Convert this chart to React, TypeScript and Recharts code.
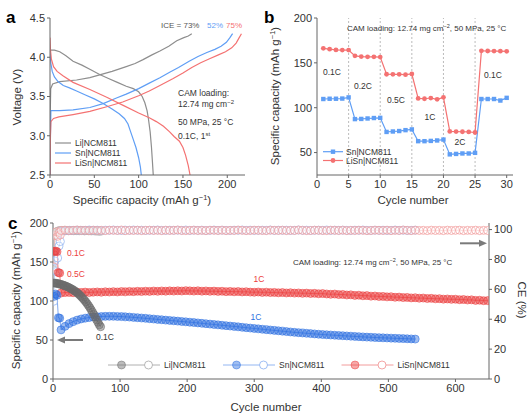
import React from "react";
import { ComposedChart, Line, XAxis, YAxis, ReferenceLine } from "recharts";

const FONT = "Arial, 'Liberation Sans', Helvetica, sans-serif";
const AX = "#666";
const TXT = "#333";

// panel a / b colours
const LI = "#8e8e8e";
const SN = "#5f9ef5";
const LISN = "#f47272";
// panel c colours
const C_LI = "#6a6a6a";
const C_SN = "#2c6fe0";
const C_LISN = "#ec3d3d";
const CE_LI = "#b0b0b0";
const CE_SN = "#93b6f2";
const CE_LISN = "#f29c9c";

// ---- panel a: first cycle voltage profiles [capacity, voltage]
const LI_CHG = [[0, 2.5], [0.3, 3.3], [0.8, 3.6], [3, 3.66], [11, 3.69], [30, 3.71], [45, 3.74], [54, 3.77], [70, 3.82], [86, 3.88], [96, 3.92], [105, 3.97], [115, 4.03], [124, 4.08], [134, 4.14], [143, 4.21], [151, 4.25], [156, 4.27], [160, 4.3]];
const LI_DIS = [[0, 4.09], [5, 4.09], [11, 4.07], [18, 4.02], [26, 3.95], [36, 3.9], [46, 3.84], [56, 3.78], [66, 3.73], [76, 3.68], [86, 3.63], [94, 3.6], [100, 3.56], [104, 3.5], [107, 3.42], [109.5, 3.32], [111, 3.22], [113, 3.05], [114.5, 2.85], [115.5, 2.68], [116.5, 2.5]];
const SN_CHG = [[0, 2.5], [0.5, 3.0], [1, 3.32], [5, 3.32], [11, 3.32], [26, 3.33], [45, 3.36], [60, 3.41], [75, 3.48], [86, 3.53], [100, 3.6], [112, 3.67], [124, 3.74], [135, 3.81], [145, 3.87], [157, 3.95], [167, 4.01], [177, 4.06], [186, 4.1], [193, 4.14], [199, 4.19], [203, 4.25], [206, 4.3]];
const SN_DIS = [[0, 4.05], [1, 3.92], [2.5, 3.82], [5, 3.75], [9, 3.69], [15, 3.64], [22, 3.61], [30, 3.57], [40, 3.52], [50, 3.47], [60, 3.41], [70, 3.34], [78, 3.28], [84, 3.22], [88, 3.15], [91, 3.05], [94, 2.95], [97, 2.85], [100, 2.72], [102, 2.6], [103, 2.5]];
const LISN_CHG = [[0, 2.5], [0.5, 3.0], [1, 3.18], [4, 3.22], [10, 3.24], [26, 3.27], [45, 3.31], [64, 3.37], [82, 3.43], [100, 3.51], [112, 3.57], [124, 3.64], [139, 3.73], [150, 3.8], [160, 3.87], [170, 3.93], [180, 3.98], [190, 4.03], [198, 4.07], [205, 4.12], [210, 4.18], [213, 4.24], [216, 4.3]];
const LISN_DIS = [[0, 4.25], [0.5, 4.1], [1.5, 3.98], [4, 3.88], [8, 3.82], [15, 3.76], [26, 3.68], [45, 3.59], [64, 3.49], [82, 3.39], [100, 3.29], [112, 3.23], [120, 3.18], [128, 3.12], [135, 3.05], [140, 2.99], [146, 2.93], [150, 2.85], [153, 2.75], [156, 2.62], [158, 2.5]];

// ---- panel b: rate capability
const B_CYCLES = [1, 2, 3, 4, 5, 6, 7, 8, 9, 10, 11, 12, 13, 14, 15, 16, 17, 18, 19, 20, 21, 22, 23, 24, 25, 26, 27, 28, 29, 30];
const B_SN = [109.7, 110, 110, 110.2, 111.5, 87.3, 87.5, 88, 88.5, 88.7, 73, 73.5, 74, 75, 75.8, 62.7, 62.7, 63, 63.5, 64.5, 48, 48.5, 49, 49, 49.7, 109.7, 109.7, 109.7, 108, 111];
const B_LISN = [166.2, 165.3, 164.4, 164.2, 164.3, 157.8, 157, 156.7, 156.7, 156.4, 137.3, 137.2, 137.2, 136.8, 137.6, 110.4, 110, 110.8, 109.4, 111.6, 73.6, 73.4, 73.2, 73, 72.4, 163.4, 163.2, 163.1, 163, 162.8];
const B_RATE_EDGES = [5, 10, 15, 20, 25];

// ---- panel c: long cycling
const LI_CYCLES = [1, 3, 5, 7, 9, 11, 13, 15, 17, 19, 21, 23, 25, 27, 29, 31, 33, 35, 37, 39, 41, 43, 45, 47, 49, 51, 53, 55, 57, 59, 61, 63, 65, 67, 69, 71];
const LI_CAP = [123.0, 123.0, 122.6, 122.3, 122.0, 121.5, 121.0, 120.4, 119.8, 119.1, 118.4, 117.6, 116.7, 115.8, 114.8, 113.7, 112.5, 111.2, 109.8, 108.3, 106.6, 104.9, 103.0, 101.0, 98.8, 96.5, 94.0, 91.4, 88.6, 85.7, 82.6, 79.3, 75.9, 72.6, 69.4, 67.0];
const LI_CE = [73, 96.5, 98.4, 99.0, 99.2, 99.3, 99.4, 99.2, 99.5, 99.3, 99.4, 99.2, 99.5, 99.3, 99.4, 99.2, 99.5, 99.3, 99.4, 99.2, 99.5, 99.3, 99.4, 99.1, 99.3, 99.4, 99.2, 99.3, 99.1, 99.3, 99.2, 99.0, 99.2, 98.9, 99.1, 98.8];

const FORM_CYCLES = [2, 4, 6, 8, 10];
const SN_FORM_CAP = [106, 109, 107.5, 78.5, 78];
const LISN_FORM_CAP = [163.5, 164, 163.2, 136.4, 135.8];
const FORM_CE_CYCLES = [1, 3, 5, 7, 9, 11];
const SN_FORM_CE = [52, 79, 72, 81, 89, 92];
const LISN_FORM_CE = [75, 96, 98.5, 95.5, 98, 96.5];

const C_CYCLES = [12, 18, 24, 30, 36, 42, 48, 54, 60, 66, 72, 78, 84, 90, 96, 102, 108, 114, 120, 126, 132, 138, 144, 150, 156, 162, 168, 174, 180, 186, 192, 198, 204, 210, 216, 222, 228, 234, 240, 246, 252, 258, 264, 270, 276, 282, 288, 294, 300, 306, 312, 318, 324, 330, 336, 342, 348, 354, 360, 366, 372, 378, 384, 390, 396, 402, 408, 414, 420, 426, 432, 438, 444, 450, 456, 462, 468, 474, 480, 486, 492, 498, 504, 510, 516, 522, 528, 534, 540, 546, 552, 558, 564, 570, 576, 582, 588, 594, 600, 606, 612, 618, 624, 630, 636, 642, 648];
const LISN_CAP = [
  110.2, 110.8, 111.0, 110.6, 111.2, 111.0, 111.4, 110.9, 111.3, 111.6,
  111.2, 111.8, 111.5, 112.0, 111.6, 112.1, 111.8, 112.3, 112.0, 112.4,
  112.1, 112.6, 112.3, 112.8, 112.4, 112.9, 112.6, 113.0, 112.7, 113.1,
  112.8, 113.3, 113.0, 112.7, 113.1, 112.6, 112.9, 112.4, 112.7, 112.3,
  112.5, 112.0, 112.3, 111.8, 112.1, 111.6, 111.9, 111.4, 111.2, 111.5,
  111.0, 111.3, 110.8, 111.0, 110.5, 110.8, 110.3, 110.6, 110.1, 110.3,
  109.8, 110.1, 109.6, 109.8, 109.3, 109.5, 109.0, 108.6, 108.9, 108.2,
  108.4, 107.7, 107.9, 107.2, 107.4, 106.7, 106.9, 106.2, 106.4, 105.8,
  105.9, 105.3, 105.5, 104.8, 105.0, 104.4, 104.6, 104.0, 104.2, 103.6,
  103.8, 103.2, 103.4, 102.8, 103.0, 102.4, 102.6, 102.1, 102.3, 101.7,
  101.9, 101.3, 101.5, 100.8, 101.0, 100.4, 100.5,
];
const SN_CAP = [
  63, 67.5, 71, 73.5, 75.5, 77, 78, 78.8, 79.4, 79.8,
  80.1, 80.3, 80.4, 80.4, 80.2, 80.0, 79.7, 79.4, 79.0, 78.6,
  78.2, 77.8, 77.3, 76.9, 76.4, 76.0, 75.5, 75.1, 74.6, 74.2,
  73.7, 73.3, 72.8, 72.4, 71.9, 71.4, 70.9, 70.4, 69.9, 69.4,
  68.9, 68.4, 67.9, 67.4, 66.9, 66.3, 65.8, 65.3, 64.8, 64.3,
  63.8, 63.3, 62.8, 62.3, 61.8, 61.3, 60.8, 60.3, 59.8, 59.4,
  59.0, 58.6, 58.2, 57.8, 57.4, 57.0, 56.7, 56.4, 56.1, 55.8,
  55.5, 55.2, 54.9, 54.6, 54.3, 54.0, 53.7, 53.5, 53.2, 53.0,
  52.8, 52.6, 52.4, 52.2, 52.0, 51.8, 51.6, 51.4, 51.2,
];
const LISN_CE = [
  99.4, 99.6, 99.3, 99.5, 99.7, 99.4, 99.5, 99.3, 99.6, 99.4,
  99.5, 99.3, 99.6, 99.5, 99.4, 99.7, 99.3, 99.5, 99.4, 99.6,
  99.3, 99.5, 99.6, 99.4, 99.5, 99.3, 99.6, 99.4, 99.5, 99.7,
  99.4, 99.3, 99.5, 99.6, 99.4, 99.5, 99.3, 99.6, 99.5, 99.4,
  99.6, 99.3, 99.5, 99.4, 99.7, 99.5, 99.3, 99.4, 99.6, 99.5,
  99.4, 99.3, 99.6, 99.5, 99.4, 99.6, 99.3, 99.5, 99.4, 99.7,
  99.5, 99.3, 99.4, 99.6, 99.5, 99.4, 99.3, 99.6, 99.5, 99.4,
  99.6, 99.3, 99.5, 99.4, 99.6, 99.5, 99.3, 99.4, 99.6, 99.5,
  99.4, 99.6, 99.3, 99.5, 99.4, 99.7, 99.5, 99.3, 99.6, 99.4,
  99.5, 99.3, 99.6, 99.4, 99.5, 99.3, 99.6, 99.4, 99.5, 99.6,
  99.3, 99.5, 99.4, 99.6, 99.3, 99.5, 99.4,
];
const SN_CE = [
  99.0, 99.2, 99.4, 99.5, 99.6, 99.4, 99.5, 99.7, 99.5, 99.6,
  99.4, 99.6, 99.5, 99.7, 99.5, 99.4, 99.6, 99.5, 99.7, 99.5,
  99.6, 99.4, 99.5, 99.6, 99.7, 99.5, 99.4, 99.6, 99.5, 99.6,
  99.5, 99.7, 99.4, 99.6, 99.5, 99.6, 99.4, 99.5, 99.7, 99.5,
  99.6, 99.5, 99.4, 99.6, 99.5, 99.7, 99.5, 99.6, 99.4, 99.5,
  99.6, 99.5, 99.7, 99.4, 99.6, 99.5, 99.6, 99.4, 99.5, 99.7,
  99.5, 99.6, 99.4, 99.5, 99.6, 99.5, 99.7, 99.4, 99.6, 99.5,
  99.6, 99.5, 99.4, 99.6, 99.5, 99.7, 99.5, 99.4, 99.6, 99.5,
  99.6, 99.4, 99.5, 99.7, 99.5, 99.6, 99.4, 99.5, 99.6,
];

const pts = (pairs: number[][]) => pairs.map(([x, y]) => ({ x, y }));
const zip = (xs: number[], ys: number[]) => ys.map((y, i) => ({ x: xs[i], y }));

const tickStyle = { fontSize: 11, fill: TXT, fontFamily: FONT };

function PanelA() {
  const curves = [
    { d: LI_CHG, c: LI }, { d: LI_DIS, c: LI },
    { d: SN_CHG, c: SN }, { d: SN_DIS, c: SN },
    { d: LISN_CHG, c: LISN }, { d: LISN_DIS, c: LISN },
  ];
  return (
    <ComposedChart width={262} height={205} margin={{ top: 18, right: 17, bottom: 0, left: 0 }}>
      <XAxis type="number" dataKey="x" domain={[0, 220]} ticks={[0, 50, 100, 150, 200]} height={30}
        tickSize={3} tickMargin={2} tick={tickStyle} stroke={AX} allowDataOverflow />
      <XAxis xAxisId="f" orientation="top" type="number" domain={[0, 220]} height={0} tick={false} stroke={AX} />
      <YAxis type="number" domain={[2.5, 4.5]} ticks={[2.5, 3, 3.5, 4, 4.5]} tickFormatter={(v) => v.toFixed(1)}
        width={50} tickSize={3} tickMargin={2} tick={tickStyle} stroke={AX} allowDataOverflow />
      <YAxis yAxisId="f" orientation="right" type="number" domain={[2.5, 4.5]} width={0} tick={false} stroke={AX} />
      {curves.map((cv, i) => (
        <Line key={i} data={pts(cv.d)} dataKey="y" type="linear" stroke={cv.c} strokeWidth={1.2}
          dot={false} activeDot={false} isAnimationActive={false} />
      ))}
    </ComposedChart>
  );
}

const squareDot = (color: string) => (p: any) => (
  <rect key={`s${p.index}`} x={p.cx - 2.2} y={p.cy - 2.2} width={4.4} height={4.4} fill={color} />
);

function PanelB() {
  return (
    <ComposedChart width={270} height={205} margin={{ top: 18, right: 19, bottom: 0, left: 0 }}>
      <XAxis type="number" dataKey="x" domain={[0, 31]} ticks={[0, 5, 10, 15, 20, 25, 30]} height={30}
        tickSize={3} tickMargin={2} tick={tickStyle} stroke={AX} allowDataOverflow />
      <XAxis xAxisId="f" orientation="top" type="number" domain={[0, 31]} height={0} tick={false} stroke={AX} />
      <YAxis type="number" domain={[25, 200]} ticks={[50, 100, 150, 200]} width={55}
        tickSize={3} tickMargin={2} tick={tickStyle} stroke={AX} allowDataOverflow />
      <YAxis yAxisId="f" orientation="right" type="number" domain={[25, 200]} width={0} tick={false} stroke={AX} />
      {B_RATE_EDGES.map((x) => (
        <ReferenceLine key={x} x={x} stroke="#aaa" strokeDasharray="2 2" strokeWidth={0.8} />
      ))}
      <Line data={zip(B_CYCLES, B_SN)} dataKey="y" type="linear" stroke={SN} strokeWidth={1.2}
        dot={squareDot(SN)} activeDot={false} isAnimationActive={false} />
      <Line data={zip(B_CYCLES, B_LISN)} dataKey="y" type="linear" stroke={LISN} strokeWidth={1.2}
        dot={{ r: 2.4, fill: LISN, stroke: LISN, strokeWidth: 0 }} activeDot={false} isAnimationActive={false} />
    </ComposedChart>
  );
}

const capDot = (c: string) => ({ r: 4, fill: c, fillOpacity: 0.45, stroke: c, strokeOpacity: 0.7, strokeWidth: 0.8 });
const ceDot = (c: string) => ({ r: 4, fill: "#fff", fillOpacity: 0.25, stroke: c, strokeOpacity: 0.85, strokeWidth: 0.9 });

function PanelC() {
  const snCap = [...zip(FORM_CYCLES, SN_FORM_CAP), ...zip(C_CYCLES, SN_CAP)];
  const lisnCap = [...zip(FORM_CYCLES, LISN_FORM_CAP), ...zip(C_CYCLES, LISN_CAP)];
  const snCe = [...zip(FORM_CE_CYCLES, SN_FORM_CE), ...zip(C_CYCLES, SN_CE)];
  const lisnCe = [...zip(FORM_CE_CYCLES, LISN_FORM_CE), ...zip(C_CYCLES, LISN_CE)];
  return (
    <ComposedChart width={532} height={209} margin={{ top: 18, right: 0, bottom: 5, left: 0 }}>
      <XAxis type="number" dataKey="x" domain={[0, 650]} ticks={[0, 100, 200, 300, 400, 500, 600]} height={30}
        tickSize={3} tickMargin={2} tick={tickStyle} stroke={AX} allowDataOverflow />
      <XAxis xAxisId="f" orientation="top" type="number" domain={[0, 650]} height={0} tick={false} stroke={AX} />
      <YAxis type="number" domain={[0, 200]} ticks={[0, 50, 100, 150, 200]} width={53}
        tickSize={3} tickMargin={2} tick={tickStyle} stroke={AX} allowDataOverflow />
      <YAxis yAxisId="ce" orientation="right" type="number" domain={[0, 104.4]} ticks={[0, 20, 40, 60, 80, 100]} width={43}
        tickSize={3} tickMargin={2} tick={tickStyle} stroke={AX} allowDataOverflow />
      <Line yAxisId="ce" data={zip(LI_CYCLES, LI_CE)} dataKey="y" stroke={CE_LI} strokeWidth={0.6}
        dot={ceDot(CE_LI)} activeDot={false} isAnimationActive={false} />
      <Line yAxisId="ce" data={snCe} dataKey="y" stroke={CE_SN} strokeWidth={0.6}
        dot={ceDot(CE_SN)} activeDot={false} isAnimationActive={false} />
      <Line yAxisId="ce" data={lisnCe} dataKey="y" stroke={CE_LISN} strokeWidth={0.6}
        dot={ceDot(CE_LISN)} activeDot={false} isAnimationActive={false} />
      <Line data={lisnCap} dataKey="y" stroke={C_LISN} strokeWidth={0.6}
        dot={capDot(C_LISN)} activeDot={false} isAnimationActive={false} />
      <Line data={snCap} dataKey="y" stroke={C_SN} strokeWidth={0.6}
        dot={capDot(C_SN)} activeDot={false} isAnimationActive={false} />
      <Line data={zip(LI_CYCLES, LI_CAP)} dataKey="y" stroke={C_LI} strokeWidth={0.6}
        dot={capDot(C_LI)} activeDot={false} isAnimationActive={false} />
    </ComposedChart>
  );
}

function Overlay() {
  const t = { fontFamily: FONT, fill: TXT };
  const capTitle = (
    <>
      Specific capacity (mAh g<tspan dy={-4} fontSize={7.5}>−1</tspan><tspan dy={4}>)</tspan>
    </>
  );
  return (
    <svg width={532} height={414} style={{ position: "absolute", left: 0, top: 0, pointerEvents: "none" }}>
      {/* panel letters */}
      <text x={6} y={23} fontSize={17} fontWeight="bold" {...t} fill="#000">a</text>
      <text x={264} y={23} fontSize={17} fontWeight="bold" {...t} fill="#000">b</text>
      <text x={8} y={229} fontSize={17} fontWeight="bold" {...t} fill="#000">c</text>

      {/* panel a */}
      <text transform="translate(21,97) rotate(-90)" textAnchor="middle" fontSize={11.5} {...t}>Voltage (V)</text>
      <text x={142} y={204} textAnchor="middle" fontSize={11.5} {...t}>{capTitle}</text>
      <text x={161} y={28} fontSize={8} {...t} fill="#555">ICE = 73%</text>
      <text x={207} y={28} fontSize={8} {...t} fill={SN}>52%</text>
      <text x={226} y={28} fontSize={8} {...t} fill={LISN}>75%</text>
      <text x={178} y={96} fontSize={8.5} {...t}>CAM loading:</text>
      <text x={178} y={107} fontSize={8.5} {...t}>12.74 mg cm<tspan dy={-3.5} fontSize={6}>−2</tspan></text>
      <text x={178} y={125} fontSize={8.5} {...t}>50 MPa, 25 °C</text>
      <text x={178} y={139} fontSize={8.5} {...t}>0.1C, 1<tspan dy={-3.5} fontSize={6}>st</tspan></text>
      {[{ c: LI, s: "Li|NCM811", y: 143 }, { c: SN, s: "Sn|NCM811", y: 153 }, { c: LISN, s: "LiSn|NCM811", y: 163 }].map((l) => (
        <g key={l.s}>
          <line x1={55} x2={71} y1={l.y} y2={l.y} stroke={l.c} strokeWidth={1.2} />
          <text x={75} y={l.y + 3} fontSize={8.5} {...t}>{l.s}</text>
        </g>
      ))}

      {/* panel b */}
      <text transform="translate(279,96) rotate(-90)" textAnchor="middle" fontSize={11.5} {...t}>{capTitle}</text>
      <text x={413} y={204} textAnchor="middle" fontSize={11.5} {...t}>Cycle number</text>
      <text x={347} y={31} fontSize={8} {...t}>
        CAM loading: 12.74 mg cm<tspan dy={-3} fontSize={5.5}>−2</tspan><tspan dy={3}>, 50 MPa, 25 °C</tspan>
      </text>
      {[{ s: "0.1C", x: 332, y: 72 }, { s: "0.2C", x: 363, y: 86 }, { s: "0.5C", x: 396, y: 100 },
        { s: "1C", x: 430, y: 117 }, { s: "2C", x: 460, y: 142 }, { s: "0.1C", x: 493, y: 75 }].map((l, i) => (
        <text key={i} x={l.x} y={l.y + 3} textAnchor="middle" fontSize={8.5} {...t}>{l.s}</text>
      ))}
      <line x1={323} x2={343} y1={151.7} y2={151.7} stroke={SN} strokeWidth={1.2} />
      <rect x={330.8} y={149.5} width={4.4} height={4.4} fill={SN} />
      <text x={346} y={154.7} fontSize={8.5} {...t}>Sn|NCM811</text>
      <line x1={323} x2={343} y1={160.5} y2={160.5} stroke={LISN} strokeWidth={1.2} />
      <circle cx={333} cy={160.5} r={2.4} fill={LISN} />
      <text x={346} y={163.5} fontSize={8.5} {...t}>LiSn|NCM811</text>

      {/* panel c */}
      <text transform="translate(20,300) rotate(-90)" textAnchor="middle" fontSize={11.5} {...t}>{capTitle}</text>
      <text transform="translate(518,300) rotate(90)" textAnchor="middle" fontSize={11.5} {...t}>CE (%)</text>
      <text x={266} y={411} textAnchor="middle" fontSize={11.5} {...t}>Cycle number</text>
      <text x={293} y={264.5} fontSize={8} {...t}>
        CAM loading: 12.74 mg cm<tspan dy={-3} fontSize={5.5}>−2</tspan><tspan dy={3}>, 50 MPa, 25 °C</tspan>
      </text>
      <text x={67} y={256} fontSize={8.5} {...t} fill={C_LISN}>0.1C</text>
      <text x={67} y={276.5} fontSize={8.5} {...t} fill={C_LISN}>0.5C</text>
      <text x={259} y={282} textAnchor="middle" fontSize={8.5} {...t} fill={C_LISN}>1C</text>
      <text x={256} y={320} textAnchor="middle" fontSize={8.5} {...t} fill={C_SN}>1C</text>
      <text x={105} y={339.5} textAnchor="middle" fontSize={8.5} {...t}>0.1C</text>
      {/* arrows */}
      <line x1={64} x2={83} y1={340} y2={340} stroke="#7a7a7a" strokeWidth={2} />
      <polygon points="57,340 65,336.5 65,343.5" fill="#7a7a7a" />
      <line x1={460} x2={480} y1={243.3} y2={243.3} stroke="#7a7a7a" strokeWidth={2} />
      <polygon points="487,243.3 479,239.8 479,246.8" fill="#7a7a7a" />
      {[{ c: C_LI, ce: CE_LI, s: "Li|NCM811", x: 108 }, { c: C_SN, ce: CE_SN, s: "Sn|NCM811", x: 223 },
        { c: C_LISN, ce: CE_LISN, s: "LiSn|NCM811", x: 341.5 }].map((l) => (
        <g key={l.s}>
          <line x1={l.x} x2={l.x + 52} y1={365} y2={365} stroke={l.ce} strokeWidth={1} />
          <circle cx={l.x + 13.5} cy={365} r={4} fill={l.c} fillOpacity={0.45} stroke={l.c} strokeOpacity={0.6} strokeWidth={0.8} />
          <circle cx={l.x + 40.5} cy={365} r={4} fill="#fff" stroke={l.ce} strokeWidth={0.9} />
          <text x={l.x + 56} y={368} fontSize={8.5} {...t}>{l.s}</text>
        </g>
      ))}
    </svg>
  );
}

export default function App() {
  return (
    <div style={{ position: "absolute", left: 0, top: 0, width: 532, height: 414, background: "#fff", fontFamily: FONT, overflow: "hidden" }}>
      <div style={{ position: "absolute", left: 0, top: 0 }}><PanelA /></div>
      <div style={{ position: "absolute", left: 262, top: 0 }}><PanelB /></div>
      <div style={{ position: "absolute", left: 0, top: 205 }}><PanelC /></div>
      <Overlay />
    </div>
  );
}
